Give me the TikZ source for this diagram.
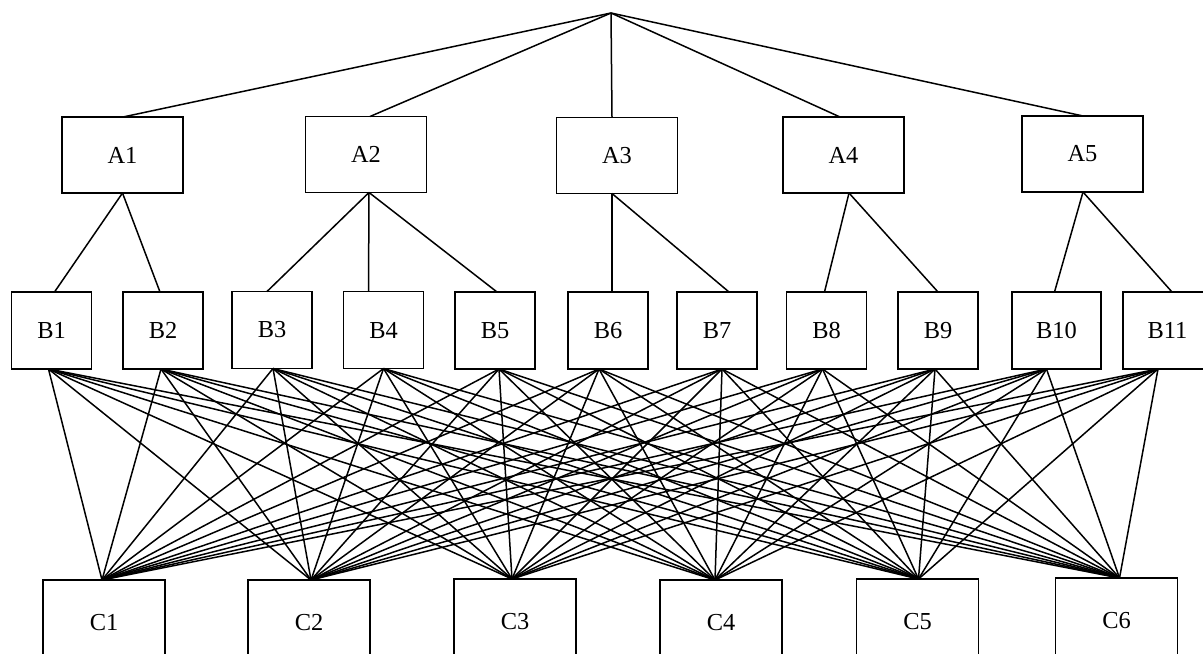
\documentclass[tikz,border=0pt]{standalone}
\usepackage{fontspec}
\setmainfont{Liberation Serif}
\usetikzlibrary{calc}

\begin{document}
\begin{tikzpicture}[x=0.5pt, y=-0.5pt]
\tikzset{ inner sep=0pt, outer sep=0pt,
  boxA/.style={draw, line width=0.55pt, minimum width=60.5pt, minimum height=38pt, font=\fontsize{12.2}{14}\selectfont},
  boxB/.style={boxA, minimum width=40pt, minimum height=38.5pt},
  boxC/.style={boxA, minimum width=61pt, minimum height=43pt},
  link/.style={line width=0.75pt},
}

\useasboundingbox (0,0) rectangle (1203,653);
\clip (0,0) rectangle (1203,653);

%\draw [lightgray, dashed] (0,0) grid[step=50] (1203,653);

\coordinate (top) at (611,13);

\node [boxA] (A1) at (122.5,155) {A1};
\node [boxA] (A2) at (366,154.5) {A2};
\node [boxA] (A3) at (617,155.5) {A3};
\node [boxA] (A4) at (843.5,155) {A4};
\node [boxA] (A5) at (1082.5,154) {A5};

\node [boxB] (B1) at (51.5,330.5) {B1};
\node [boxB] (B2) at (163,330.5) {B2};
\node [boxB] (B3) at (272,330) {B3};
\node [boxB] (B4) at (383.5,330) {B4};
\node [boxB] (B5) at (495,330.5) {B5};
\node [boxB] (B6) at (608,330.5) {B6};
\node [boxB] (B7) at (717,330.5) {B7};
\node [boxB] (B8) at (826.5,330.5) {B8};
\node [boxB] (B9) at (938,330.5) {B9};
\node [boxB, minimum width=44.5pt] (B10) at (1056.5,330.5) {B10};
\node [boxB, minimum width=44.5pt] (B11) at (1167.5,330.5) {B11};

\node [boxC] (C1) at (104,623) {C1};
\node [boxC] (C2) at (309,623) {C2};
\node [boxC] (C3) at (515,622) {C3};
\node [boxC] (C4) at (721,623) {C4};
\node [boxC] (C5) at (917.5,622) {C5};
\node [boxC] (C6) at (1116.5,621) {C6};

% attach points (offsets in px)
\foreach \n/\t/\d in {1/0.5/0, 2/4/3, 3/-5/-5, 4/-3.5/5.5, 5/0.5/0.5} {
  \coordinate (tA\n) at ($(A\n.north)+(\t,0)$);
  \coordinate (aA\n) at ($(A\n.south)+(\d,0)$);
}
\foreach \n/\t/\b in {1/3/-3, 2/-3/-2, 3/-5/1, 4/-15/0, 5/2/4, 6/4/-9,
                      7/12/5, 8/-2/-4, 9/0/-3, 10/-2/-10, 11/4.5/-9.5} {
  \coordinate (tB\n) at ($(B\n.north)+(\t,0)$);
  \coordinate (bB\n) at ($(B\n.south)+(\b,0)$);
}
\foreach \n/\d in {1/-2, 2/2, 3/-3, 4/-6, 5/1, 6/3}
  \coordinate (tC\n) at ($(C\n.north)+(\d,0)$);

% top level
\foreach \n in {1,...,5}
  \draw [link] (top) -- (tA\n);

% A -> B
\foreach \a/\b in {1/1, 1/2, 2/3, 2/4, 2/5, 3/6, 3/7, 4/8, 4/9, 5/10, 5/11}
  \draw [link] (aA\a) -- (tB\b);

% B -> C, every pair
\foreach \b in {1,...,11}
  \foreach \c in {1,...,6}
    \draw [link] (bB\b) -- (tC\c);

\end{tikzpicture}
\end{document}
